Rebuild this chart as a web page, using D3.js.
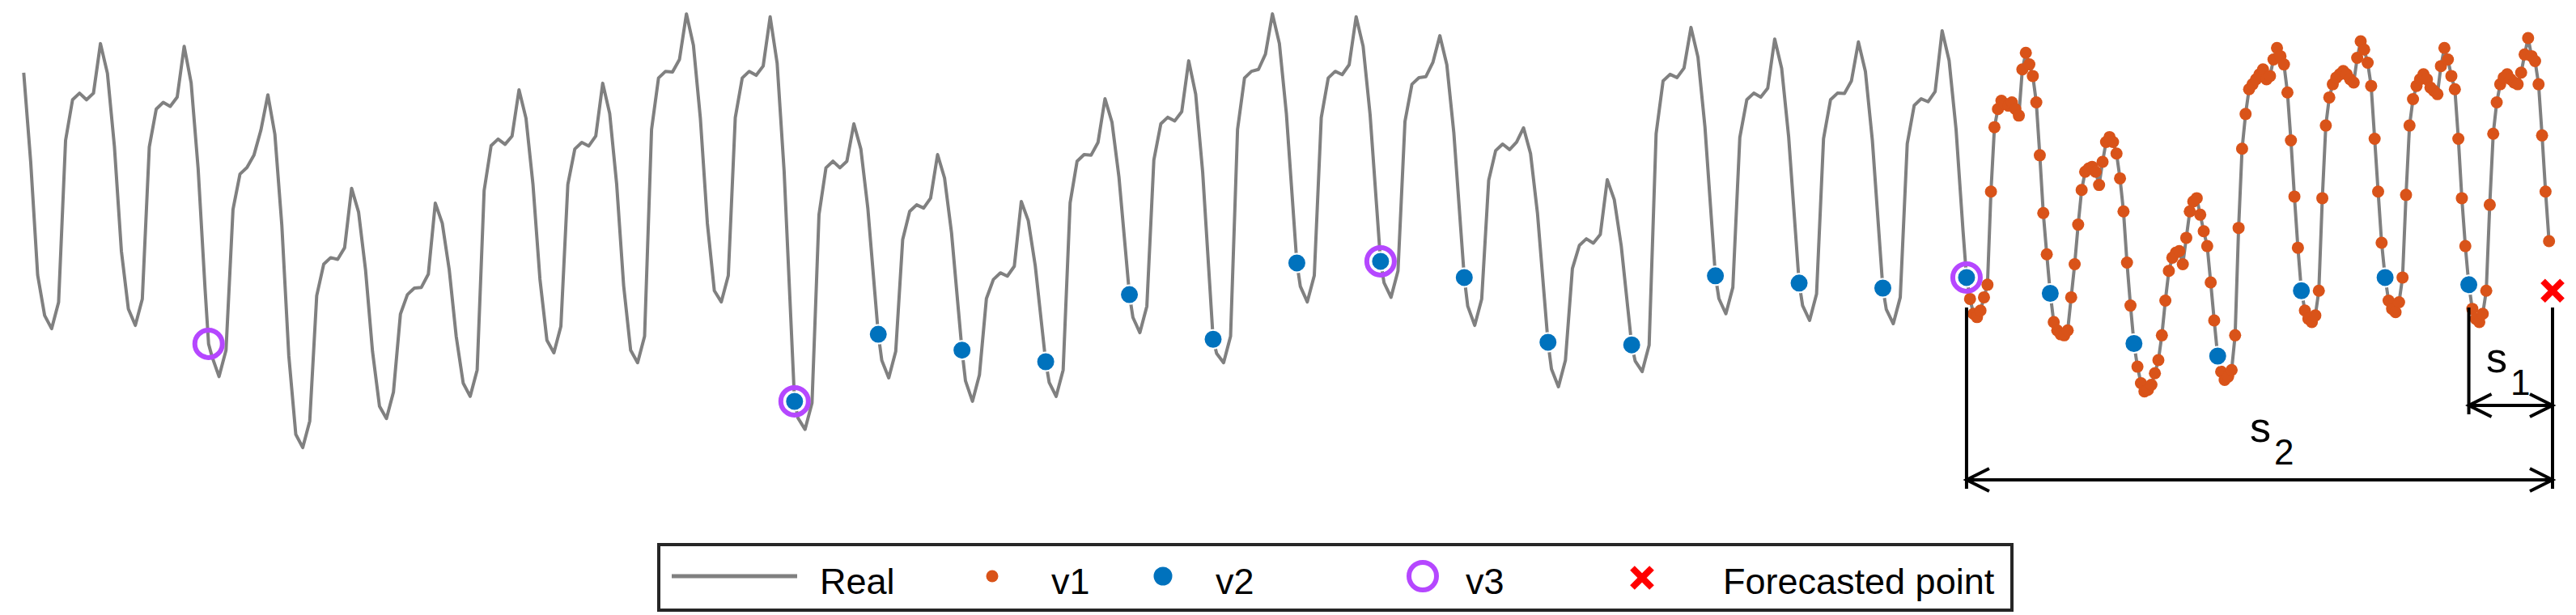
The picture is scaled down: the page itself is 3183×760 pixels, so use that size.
<!DOCTYPE html>
<html>
<head>
<meta charset="utf-8">
<title>Real, v1, v2, v3 and forecasted point</title>
<script src="https://cdn.jsdelivr.net/npm/d3@7"></script>
<style>
body { margin: 0; background: #fff; }
svg { display: block; font-family: "Liberation Sans", Arial, Helvetica, sans-serif; }
</style>
</head>
<body>
<svg id="chart" width="3183" height="760"></svg>
<script>

// Hours run from 0 to 726 (the forecasted hour). One day = 24 hours.
var forecastHour = 726;

// Real series read every two hours (odd hours 1..557), before the last week
var realCoarse = [
    128, 101, 66.7,
    54.5, 50.5, 58.5, 107.5, 119.8, 121.8, 119.8, 121.8, 136.8, 127.8, 105.7, 74,
    56.5, 51.5, 59.5, 105.5, 117, 119, 117.8, 120.6, 136, 124.9, 99, 62.4,
    42, 36, 44, 86.6, 97.3, 99.3, 103, 110.6, 121.3, 109.4, 81.8, 42.3,
    18.5, 14.5, 22.5, 60.5, 70, 72, 71.5, 75, 93, 85.8, 68.3, 43.6,
    27, 23.3, 31.3, 54.9, 60.8, 62.8, 63, 67, 88.5, 82.4, 68.3, 48.1,
    34, 30, 38, 92.3, 105.9, 107.9, 106.3, 108.8, 122.8, 114.2, 94.2, 65.5,
    47, 43.2, 51.2, 94.2, 104.9, 106.9, 105.8, 108.8, 124.8, 115.6, 94.2, 63.5,
    44, 40.2, 48.2, 110.8, 126.4, 128.4, 128.2, 132, 145.8, 136.3, 114.1, 82.4,
    62, 58.6, 66.6, 114.4, 126.4, 128.4, 127.2, 130, 144.9, 130.9, 98.3, 51.8,
    23.4, 20, 28, 85, 99.2, 101.2, 99.2, 101.2, 112.5, 104.9, 87, 61.5,
    40.9, 35.6, 43.6, 77.5, 86, 88, 87, 90, 103.2, 96.1, 79.5, 55.8,
    34.7, 28.5, 36.5, 59.6, 65.4, 67.4, 66.4, 69.4, 89, 83.2, 69.6, 50.2,
    34.2, 30, 38, 88.6, 101.2, 103.2, 103, 106.9, 120.1, 113, 96.4, 72.7,
    53.9, 49.3, 57.3, 101.5, 112.5, 114.5, 113.4, 116.2, 131.6, 121.5, 97.9, 64.2,
    43, 40.2, 48.2, 110.8, 126.4, 128.4, 129, 133.6, 145.8, 136.8, 115.6, 85.5,
    63.3, 58.6, 66.6, 114.4, 126.4, 128.4, 127.4, 130.4, 144.9, 136, 115.3, 85.7,
    64.4, 60, 68, 113.2, 124.5, 126.5, 126.8, 131.1, 139.2, 130.4, 109.9, 80.6,
    57.3, 51.5, 59.5, 95.4, 104.4, 106.4, 104.7, 107, 111.3, 103.5, 85.3, 59.4,
    38.3, 32.9, 40.9, 68.7, 75.7, 77.7, 76.4, 79, 95.6, 89.6, 75.6, 55.6,
    40.7, 37.5, 45.5, 109.5, 125.5, 127.5, 126.5, 129.4, 141.7, 132.7, 111.6, 81.5,
    59.6, 55, 63, 108.4, 119.8, 121.8, 120.6, 123.3, 138.2, 129.3, 108.6, 79.1,
    57.5, 53, 61, 108, 119.8, 121.8, 121.7, 125.5, 137.3, 128.4, 107.5, 77.7,
    56.3, 52, 60, 106.5, 118.1, 120.1, 119.2, 122.3, 140.7, 131.7, 110.8, 80
];

// v1: hourly values of the last week (hours 558..725)
var v1Values = [
    66, 59.5, 55, 54, 56, 60, 63.8, 92, 111.5, 117, 119.5, 118.5, 118, 119, 117, 115, 129, 134, 130.5, 127, 119, 103, 85.5, 73,
    61.2, 52.5, 50, 48.8, 48.5, 50, 60, 70, 82, 92.5, 98, 99, 99.5, 98, 94, 101, 107, 108.5, 107, 103.5, 96, 86, 70.5, 57.5,
    46, 39, 34, 31.5, 32, 33.5, 37, 41, 48.5, 59, 68, 72, 73.5, 74, 70, 78, 86, 89, 90, 85, 80, 75.5, 64.5, 53,
    42.2, 37.5, 35, 36, 38, 48.5, 81, 105, 115.5, 123, 124.5, 126, 127.5, 129, 126, 127, 132, 135.5, 133, 130.5, 122, 107.5, 90.5, 75,
    62, 56, 53.5, 52.5, 54.5, 62, 90, 112, 120.5, 124.5, 126.5, 127.5, 128.5, 127.5, 126, 125, 132.5, 137.5, 135, 131, 124, 108, 92, 76.5,
    66, 59, 56.5, 55.5, 58.5, 66, 91, 112, 120, 124, 126, 127.5, 126, 123.5, 122.5, 121.5, 130, 135.5, 132, 127, 123, 108, 90, 75.5,
    63.8, 56.5, 53.5, 52.5, 55, 62, 88, 109.5, 119, 124.5, 126.5, 127.5, 126, 125, 124.5, 128, 133.5, 138.5, 133, 131.5, 124.5, 109, 92, 77
];
var v1Start = 558;

// v2: same hour on each of the last 21 days (hours 222, 246, ..., 702)
var v2Values = [28.5, 48.8, 44, 40.5, 60.8, 47.3, 70.4, 70.9, 66, 46.4, 45.6,
                66.5, 64.3, 62.8, 66, 61.2, 46, 42.2, 62, 66, 63.8];
var v2Start = 222;

// v3: same hour one week apart
var v3Hours = [54, 222, 390, 558];
var v3Values = [45.9, 28.5, 70.9, 66];

var forecastValue = 62;

var legendLabels = ['Real', 'v1', 'v2', 'v3', 'Forecasted point'];

var colorReal = '#808080',
    colorV1 = '#D95319',
    colorV2 = '#0072BD',
    colorV3 = '#B547FF',
    colorForecast = '#FF0000';

// ---- build point lists ----
var realMap = new Map();
realCoarse.forEach(function(v, i) { realMap.set(1 + 2 * i, v); });
v2Values.forEach(function(v, i) { realMap.set(v2Start + 24 * i, v); });
v3Values.forEach(function(v, i) { realMap.set(v3Hours[i], v); });
v1Values.forEach(function(v, i) { realMap.set(v1Start + i, v); });
var realPoints = Array.from(realMap, function(d) { return { h: d[0], v: d[1] }; })
    .sort(function(a, b) { return a.h - b.h; });

var v1Points = v1Values.map(function(v, i) { return { h: v1Start + i, v: v }; });
var v2Points = v2Values.map(function(v, i) { return { h: v2Start + 24 * i, v: v }; });
var v3Points = v3Values.map(function(v, i) { return { h: v3Hours[i], v: v }; });

var svg = d3.select('#chart');

var x = d3.scaleLinear().domain([0, forecastHour]).range([25, 3154]);
var y = d3.scaleLinear().domain([0, 150]).range([612.3, 0]);

var line = d3.line()
    .x(function(d) { return x(d.h); })
    .y(function(d) { return y(d.v); });

svg.append('path')
    .datum(realPoints)
    .attr('d', line)
    .attr('fill', 'none')
    .attr('stroke', colorReal)
    .attr('stroke-width', 4)
    .attr('stroke-linejoin', 'round');

svg.append('g').selectAll('circle')
    .data(v1Points)
    .enter().append('circle')
    .attr('cx', function(d) { return x(d.h); })
    .attr('cy', function(d) { return y(d.v); })
    .attr('r', 7.5)
    .attr('fill', colorV1);

svg.append('g').selectAll('circle')
    .data(v2Points)
    .enter().append('circle')
    .attr('cx', function(d) { return x(d.h); })
    .attr('cy', function(d) { return y(d.v); })
    .attr('r', 11.5)
    .attr('fill', colorV2)
    .attr('stroke', '#fff')
    .attr('stroke-width', 2);

svg.append('g').selectAll('circle')
    .data(v3Points)
    .enter().append('circle')
    .attr('cx', function(d) { return x(d.h); })
    .attr('cy', function(d) { return y(d.v); })
    .attr('r', 17)
    .attr('fill', 'none')
    .attr('stroke', colorV3)
    .attr('stroke-width', 6);

function cross(g, cx, cy, s) {
    g.append('path')
        .attr('d', 'M' + (cx - s) + ',' + (cy - s) + 'L' + (cx + s) + ',' + (cy + s) +
                   'M' + (cx - s) + ',' + (cy + s) + 'L' + (cx + s) + ',' + (cy - s))
        .attr('stroke', colorForecast)
        .attr('stroke-width', 8);
}
cross(svg, x(forecastHour), y(forecastValue), 12);

// ---- s1 / s2 annotation ----
var ann = svg.append('g').attr('stroke', '#000').attr('stroke-width', 4).attr('fill', 'none');
var xWeek = x(forecastHour - 168), xDay = x(forecastHour - 24), xF = x(forecastHour);
var yTop = 380, yS1 = 501, yS2 = 593;

ann.append('line').attr('x1', xWeek).attr('x2', xWeek).attr('y1', yTop).attr('y2', yS2 + 11);
ann.append('line').attr('x1', xDay).attr('x2', xDay).attr('y1', yTop).attr('y2', yS1 + 11);
ann.append('line').attr('x1', xF).attr('x2', xF).attr('y1', yTop).attr('y2', yS2 + 11);

function arrow(x0, x1, yy) {
    var L = 28, W = 14;
    ann.append('line').attr('x1', x0).attr('x2', x1).attr('y1', yy).attr('y2', yy);
    ann.append('path').attr('d', 'M' + (x0 + L) + ',' + (yy - W) + 'L' + x0 + ',' + yy + 'L' + (x0 + L) + ',' + (yy + W));
    ann.append('path').attr('d', 'M' + (x1 - L) + ',' + (yy - W) + 'L' + x1 + ',' + yy + 'L' + (x1 - L) + ',' + (yy + W));
}
arrow(xDay, xF, yS1);
arrow(xWeek, xF, yS2);

function sLabel(lx, ly, sub) {
    var t = svg.append('text').attr('x', lx).attr('y', ly)
        .attr('font-size', 52).attr('fill', '#000');
    t.append('tspan').text('s');
    t.append('tspan').attr('dx', 4).attr('dy', 28).attr('font-size', 44).text(sub);
}
sLabel(3072, 460, '1');
sLabel(2780, 546, '2');

// ---- legend ----
var lg = svg.append('g');
lg.append('rect').attr('x', 814).attr('y', 673).attr('width', 1672).attr('height', 81)
    .attr('fill', '#fff').attr('stroke', '#262626').attr('stroke-width', 4);

var textX = [1013, 1299, 1502, 1811, 2129];
var textY = 734;
lg.selectAll('text')
    .data(legendLabels)
    .enter().append('text')
    .attr('x', function(d, i) { return textX[i]; })
    .attr('y', textY)
    .attr('font-size', 45)
    .attr('fill', '#000')
    .text(function(d) { return d; });

lg.append('line').attr('x1', 830).attr('x2', 985).attr('y1', 712).attr('y2', 712)
    .attr('stroke', colorReal).attr('stroke-width', 5);
lg.append('circle').attr('cx', 1226).attr('cy', 712).attr('r', 7.5).attr('fill', colorV1);
lg.append('circle').attr('cx', 1437).attr('cy', 712).attr('r', 11.5).attr('fill', colorV2);
lg.append('circle').attr('cx', 1758).attr('cy', 712).attr('r', 17).attr('fill', 'none')
    .attr('stroke', colorV3).attr('stroke-width', 6);
cross(lg, 2029, 714, 12);

</script>
</body>
</html>
